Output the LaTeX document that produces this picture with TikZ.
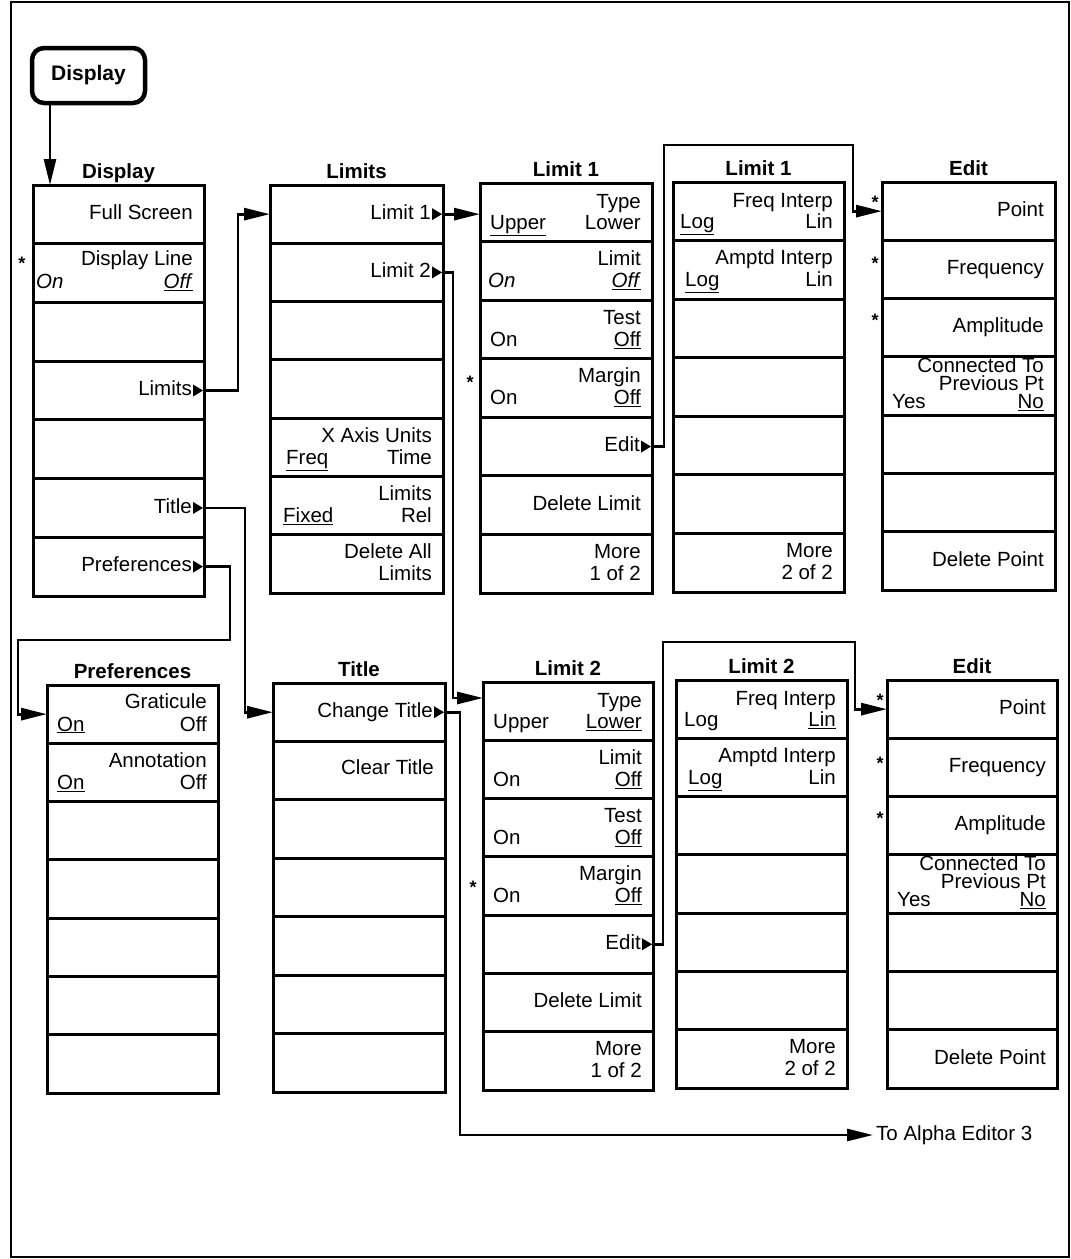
\documentclass[tikz,border=0pt]{standalone}
\usepackage{fontspec}
\setmainfont{Liberation Sans}
\usetikzlibrary{arrows.meta,calc}
\newcounter{lblc}
\tikzset{
  menu/.style={draw, line width=3pt, rectangle, anchor=north west, inner sep=0pt, outer sep=0pt},
  lab/.style={inner sep=0pt, text height=15pt, text depth=4.5pt, font=\fontsize{20.5}{23}\selectfont},
  ttl/.style={inner sep=0pt, text height=15pt, text depth=4.5pt, font=\fontsize{20.5}{23}\selectfont\bfseries, anchor=south},
  conn/.style={line width=2.8pt},
  arr/.style={conn, -{Triangle[length=26pt,width=12pt]}},
  starmark/.style={inner sep=0pt, font=\bfseries\fontsize{18}{20}\selectfont},
}
\newcommand\mkmenu[6]{%
  \node[menu, minimum width={(#4-#2)*1pt}, minimum height={(#5-#3)*1pt}] (#1) at (#2,#3) {};
  \node[ttl] (#1-t) at ([yshift=2pt]#1.north) {#6};
  \foreach \i in {1,...,6}{\draw[line width=3pt] ($(#1.north west)!\i/7!(#1.south west)$) -- ($(#1.north east)!\i/7!(#1.south east)$);}
  \foreach \i in {0,...,6}{%
    \coordinate (#1-L\i) at ($(#1.north west)!{(\i+0.5)/7}!(#1.south west)$);
    \coordinate (#1-R\i) at ($(#1.north east)!{(\i+0.5)/7}!(#1.south east)$);}
}
% right-aligned label
\newcommand\R[3]{\stepcounter{lblc}\node[lab, anchor=east] (lb\arabic{lblc}) at ($(#1.north east)!{#2/7}!(#1.south east)+(-11,0)$) {#3};}
% left-aligned label
\newcommand\Lf[4][8]{\stepcounter{lblc}\node[lab, anchor=west] (lb\arabic{lblc}) at ($(#2.north west)!{#3/7}!(#2.south west)+(#1,0)$) {#4};}
% label with submenu triangle
\newcommand\Ra[3]{\stepcounter{lblc}\node[lab, anchor=east] (lb\arabic{lblc}) at ($(#1-R#2)+(-12,0)$) {#3};
  \fill (#1-R#2) ++(-1,0) -- ++(-10,-6) -- ++(0,12) -- cycle;}
\newcommand\st[3]{\node[starmark] (#1) at (#2,#3) {*};}

\begin{document}
\begin{tikzpicture}[x=1pt,y=-1pt]
\useasboundingbox (0,0) rectangle (1071,1259);
\draw[line width=2.8pt] (11,2) rectangle (1069,1257);

% hardkey
\node[draw, line width=4.5pt, rounded corners=12pt, minimum width=113pt, minimum height=55pt,
  anchor=north west, outer sep=0pt, font=\bfseries\fontsize{21}{24}\selectfont] (key) at (32,48) {Display};

% menus
\mkmenu{disp}{33}{185}{204}{596}{Display}
\mkmenu{lims}{270}{185}{443}{593}{Limits}
\mkmenu{limA}{480}{183}{652}{593}{Limit 1}
\mkmenu{limAb}{673}{182}{844}{592}{Limit 1}
\mkmenu{editA}{882}{182}{1055}{590}{Edit}
\mkmenu{pref}{47}{685}{218}{1093}{Preferences}
\mkmenu{titl}{273}{683}{445}{1092}{Title}
\mkmenu{limB}{483}{682}{653}{1090}{Limit 2}
\mkmenu{limBb}{676}{680}{847}{1088}{Limit 2}
\mkmenu{editB}{887}{680}{1057}{1088}{Edit}

% Display menu
\R{disp}{0.5}{Full Screen}
\R{disp}{1.28}{Display Line}
\Lf[3]{disp}{1.68}{\textit{On}}
\R{disp}{1.68}{\underline{\textit{Off}}}
\Ra{disp}{3}{Limits}
\Ra{disp}{5}{Title}
\Ra{disp}{6}{Preferences}
\st{s1}{22}{263}

% Limits menu
\Ra{lims}{0}{Limit 1}
\Ra{lims}{1}{Limit 2}
\R{lims}{4.32}{X Axis Units}
\Lf[16]{lims}{4.70}{\underline{Freq}}
\R{lims}{4.70}{Time}
\R{lims}{5.32}{Limits}
\Lf[13]{lims}{5.70}{\underline{Fixed}}
\R{lims}{5.70}{Rel}
\R{lims}{6.32}{Delete All}
\R{lims}{6.70}{Limits}

% Limit 1 (1 of 2)
\R{limA}{0.34}{Type}
\Lf[10]{limA}{0.71}{\underline{Upper}}
\R{limA}{0.71}{Lower}
\R{limA}{1.32}{Limit}
\Lf{limA}{1.70}{\textit{On}}
\R{limA}{1.70}{\underline{\textit{Off}}}
\R{limA}{2.32}{Test}
\Lf[10]{limA}{2.70}{On}
\R{limA}{2.70}{\underline{Off}}
\R{limA}{3.32}{Margin}
\Lf[10]{limA}{3.70}{On}
\R{limA}{3.70}{\underline{Off}}
\Ra{limA}{4}{Edit}
\R{limA}{5.5}{Delete Limit}
\R{limA}{6.32}{More}
\R{limA}{6.70}{1 of 2}
\st{s2}{470}{382}

% Limit 1 (2 of 2)
\R{limAb}{0.34}{Freq Interp}
\Lf[7]{limAb}{0.71}{\underline{Log}}
\R{limAb}{0.71}{Lin}
\R{limAb}{1.32}{Amptd Interp}
\Lf[12]{limAb}{1.70}{\underline{Log}}
\R{limAb}{1.70}{Lin}
\R{limAb}{6.32}{More}
\R{limAb}{6.70}{2 of 2}

% Edit (Limit 1)
\R{editA}{0.5}{Point}
\R{editA}{1.5}{Frequency}
\R{editA}{2.5}{Amplitude}
\R{editA}{3.17}{Connected To}
\R{editA}{3.48}{Previous Pt}
\Lf[10]{editA}{3.79}{Yes}
\R{editA}{3.79}{\underline{No}}
\R{editA}{6.5}{Delete Point}
\st{s3}{875}{202}
\st{s4}{875}{263}
\st{s5}{875}{320}

% Preferences
\R{pref}{0.32}{Graticule}
\Lf[10]{pref}{0.70}{\underline{On}}
\R{pref}{0.70}{Off}
\R{pref}{1.32}{Annotation}
\Lf[10]{pref}{1.70}{\underline{On}}
\R{pref}{1.70}{Off}

% Title
\Ra{titl}{0}{Change Title\ }
\R{titl}{1.47}{Clear Title}

% Limit 2 (1 of 2)
\R{limB}{0.34}{Type}
\Lf[10]{limB}{0.71}{Upper}
\R{limB}{0.71}{\underline{Lower}}
\R{limB}{1.32}{Limit}
\Lf[10]{limB}{1.70}{On}
\R{limB}{1.70}{\underline{Off}}
\R{limB}{2.32}{Test}
\Lf[10]{limB}{2.70}{On}
\R{limB}{2.70}{\underline{Off}}
\R{limB}{3.32}{Margin}
\Lf[10]{limB}{3.70}{On}
\R{limB}{3.70}{\underline{Off}}
\Ra{limB}{4}{Edit}
\R{limB}{5.5}{Delete Limit}
\R{limB}{6.32}{More}
\R{limB}{6.70}{1 of 2}
\st{s6}{473}{887}

% Limit 2 (2 of 2)
\R{limBb}{0.34}{Freq Interp}
\Lf[8]{limBb}{0.71}{Log}
\R{limBb}{0.71}{\underline{Lin}}
\R{limBb}{1.32}{Amptd Interp}
\Lf[12]{limBb}{1.70}{\underline{Log}}
\R{limBb}{1.70}{Lin}
\R{limBb}{6.32}{More}
\R{limBb}{6.70}{2 of 2}

% Edit (Limit 2)
\R{editB}{0.5}{Point}
\R{editB}{1.5}{Frequency}
\R{editB}{2.5}{Amplitude}
\R{editB}{3.17}{Connected To}
\R{editB}{3.48}{Previous Pt}
\Lf[10]{editB}{3.79}{Yes}
\R{editB}{3.79}{\underline{No}}
\R{editB}{6.5}{Delete Point}
\st{s7}{880}{700}
\st{s8}{880}{763}
\st{s9}{880}{818}

% connectors
\coordinate (kx) at ($(disp.north west)+(17,0)$);
\draw[arr] (kx |- key.south) -- (kx);
\draw[arr] (disp-R3) -- ++(34,0) |- (lims-L0);
\draw[arr] (disp-R5) -- ++(41,0) |- (titl-L0);
\coordinate (pc) at (18,640);
\draw[arr] (disp-R6) -- ++(26,0) |- (pc) |- (pref-L0);
\draw[arr] (lims-R0) -- (lims-R0 -| limA.west);
\draw[arr] (lims-R1) -- ++(10,0) |- ([yshift=-16pt]limB.north west);
\coordinate (ea) at (853,145);
\draw[arr] (limA-R4) -- ++(12,0) |- (ea) |- (editA-L0);
\coordinate (eb) at (855,642);
\draw[arr] (limB-R4) -- ++(10,0) |- (eb) |- (editB-L0);
\node[lab, anchor=west] (alpha) at (876,1135) {To Alpha Editor 3};
\draw[arr, shorten >=3pt] (titl-R0) -- ++(15,0) |- (alpha.west);
\end{tikzpicture}
\end{document}
